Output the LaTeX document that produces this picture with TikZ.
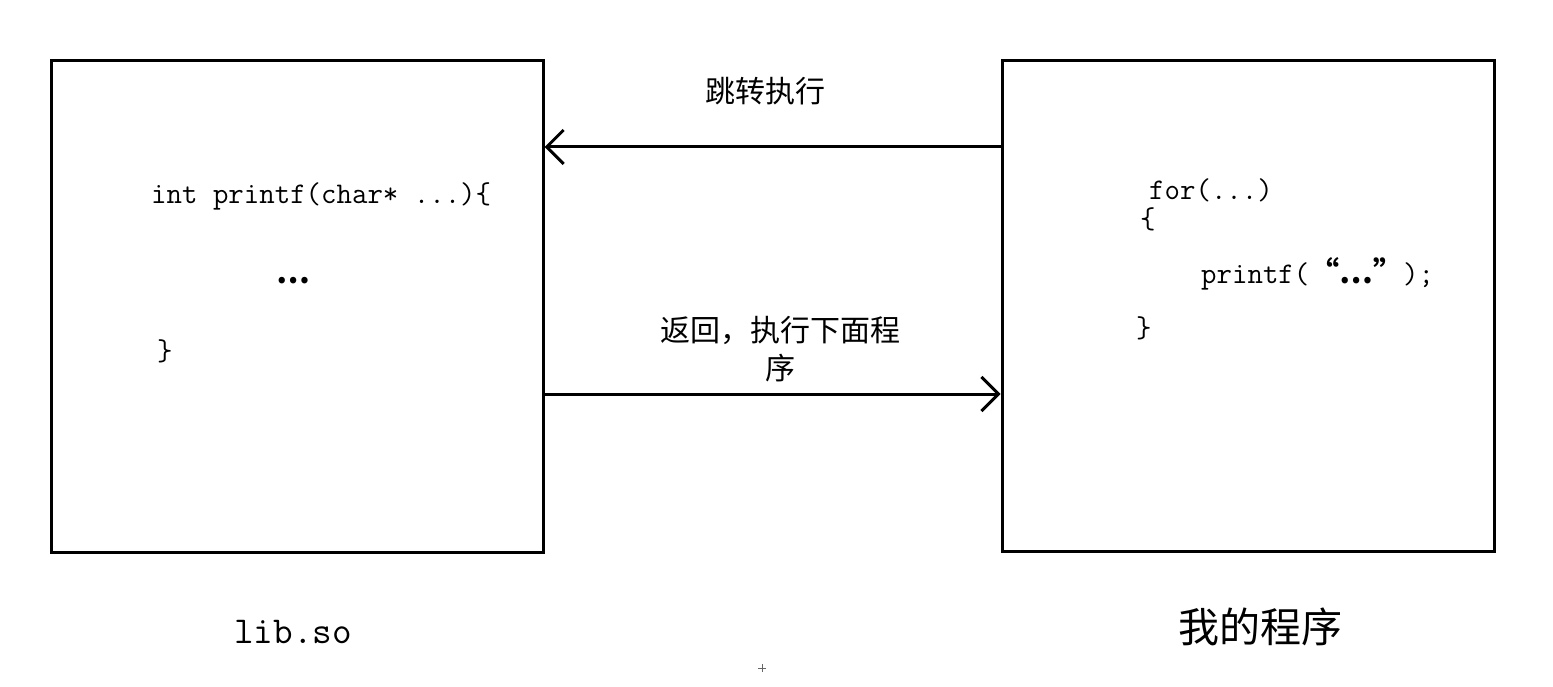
\documentclass[tikz,border=0pt]{standalone}
\usepackage{fontspec}
\newfontfamily\cjk{Noto Sans CJK SC}
\usetikzlibrary{arrows.meta}
\begin{document}
\begin{tikzpicture}[x=1pt,y=-1pt,
  box/.style={draw,line width=3pt,minimum width=492pt,minimum height=491pt,inner sep=0pt},
  arr/.style={line width=3pt,-{Straight Barb[length=17pt,width=34pt]}},
  code/.style={font=\ttfamily\fontsize{30}{36}\selectfont,anchor=west,inner sep=0pt},
  lbl/.style={font=\cjk\fontsize{30}{38}\selectfont,align=center,inner sep=0pt},
  big/.style={font=\fontsize{38}{44}\selectfont,inner sep=0pt}]
\useasboundingbox (0,0) rectangle (1553,687);
\node[box] (lib) at (297,306.5) {};
\node[box] (prog) at (1248,306) {};
\coordinate (j) at (0,147);
\coordinate (r) at (0,394);
\draw[arr] (prog.west |- j) -- (lib.east |- j);
\draw[arr] (lib.east |- r) -- (prog.west |- r);
\node[lbl] (t1) at (765,91) {跳转执行};
\node[lbl] (t2) at (780,349) {返回，执行下面程\\序};
\node[code] (c1) at (151,196) {int printf(char* ...)\{};
\node[code] (c2) at (276,281) {{\cjk\bfseries …}};
\node[code] (c3) at (157,351) {\}};
\node[code] (d1) at (1149,190) {for(...)};
\node[code] (d2) at (1140,219) {\{};
\node[code] (d3) at (1201,274) {printf({\cjk\bfseries “…”});};
\node[code] (d4) at (1136,328) {\}};
\node[big,font=\ttfamily\fontsize{38}{44}\selectfont] (n1) at (293,632) {lib.so};
\node[big,font=\cjk\fontsize{41}{46}\selectfont] (n2) at (1260,627) {我的程序};
\draw[line width=1pt,gray!80!black] (758,668) -- (766,668) (762,664) -- (762,672);
\end{tikzpicture}
\end{document}
